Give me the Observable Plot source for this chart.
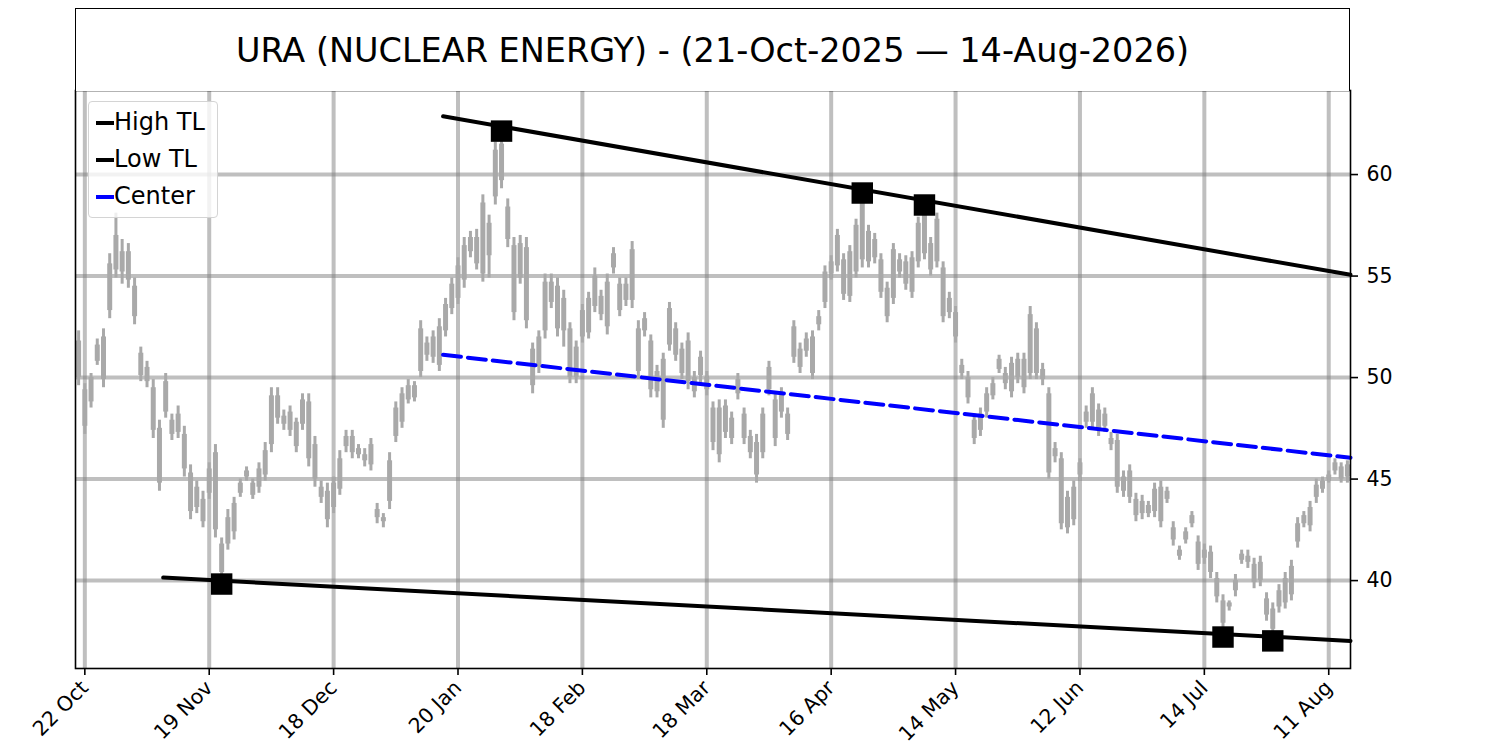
<!DOCTYPE html>
<html><head><meta charset="utf-8">
<script src="https://cdn.jsdelivr.net/npm/d3@7"></script>
<script src="https://cdn.jsdelivr.net/npm/@observablehq/plot@0.6"></script>
<style>
body{margin:0;background:#fff;font-family:"DejaVu Sans",sans-serif;}
#wrap{position:relative;width:1500px;height:750px;overflow:hidden;}
#title{position:absolute;left:75px;top:8px;width:1275px;height:83px;box-sizing:border-box;border:1.6px solid #000;border-bottom:none;display:flex;align-items:center;justify-content:center;font-size:33.5px;color:#000;background:#fff;}
#legend{position:absolute;left:88px;top:101px;width:130px;height:117px;box-sizing:border-box;border:1px solid #d4d4d4;border-radius:4px;background:rgba(255,255,255,0.8);}
#legend .row{position:absolute;left:0;height:37px;line-height:37px;font-size:24px;padding-left:25px;color:#000;white-space:nowrap;}
#legend .sw{position:absolute;left:7px;top:17px;width:18px;height:4px;}
</style></head>
<body><div id="wrap"><div id="chart"></div><div id="title"></div><div id="legend"></div></div>
<script>
const titleText = "URA (NUCLEAR ENERGY) - (21-Oct-2025 \u2014 14-Aug-2026)";
const tickIdx = [1, 21, 41, 61, 81, 101, 121, 141, 161, 181, 201];
const tickLabels = ["22 Oct","19 Nov","18 Dec","20 Jan","18 Feb","18 Mar","16 Apr","14 May","12 Jun","14 Jul","11 Aug"];
const yTicks = [40, 45, 50, 55, 60];

const highs = [
52.3,49.7,50.2,51.9,52.4,56.1,58.1,56.8,56.6,54.9,
51.5,50.8,49.9,47.9,50.2,48.2,48.6,47.6,45.7,44.9,
44.4,45.8,46.7,42.1,43.5,44.1,45.0,45.6,45.0,45.8,
46.8,49.5,49.5,48.4,48.6,48.0,49.2,49.2,47.1,44.9,
44.8,45.1,46.4,47.4,47.4,46.7,46.5,47.0,43.8,43.3,
46.3,48.8,49.5,49.9,49.8,52.8,52.0,52.3,52.9,53.9,
54.9,55.9,56.9,57.2,57.3,59.0,58.0,61.6,62.1,58.8,
56.9,57.0,56.9,51.7,52.3,55.1,55.1,54.9,54.3,52.7,
51.8,53.6,54.2,55.4,54.3,55.1,56.4,54.9,54.9,56.7,
52.8,53.2,52.1,50.6,51.2,53.7,52.7,51.7,52.2,50.3,
51.3,50.3,48.8,48.9,48.9,48.3,50.2,48.5,47.4,47.2,
48.5,50.8,49.2,49.5,48.5,52.8,51.7,52.2,52.3,53.3,
55.5,56.0,57.3,56.1,56.5,57.8,59.1,57.5,57.1,56.1,
54.7,56.6,56.1,56.0,56.2,57.9,58.5,56.9,58.1,55.7,
54.2,53.5,50.9,50.3,48.2,48.5,49.5,50.0,51.1,50.5,
51.0,51.2,51.2,53.5,52.7,50.7,49.5,46.8,46.3,44.4,
44.9,46.0,48.6,49.5,48.7,48.5,47.3,47.2,45.4,45.7,
44.3,44.2,43.9,44.8,44.9,44.6,42.9,41.7,42.6,43.4,
42.2,41.8,41.7,40.4,39.3,39.0,40.3,41.5,41.5,41.1,
41.2,39.4,38.9,39.8,40.4,41.0,43.1,43.4,43.9,45.0,
45.1,45.4,46.0,45.8,45.9];
const lows = [
49.6,47.2,48.5,50.6,49.5,52.9,54.9,54.6,54.4,52.6,
49.8,49.5,47.0,44.4,48.0,46.9,47.0,45.1,43.0,43.3,
42.6,44.0,42.1,39.8,41.5,42.0,44.1,44.9,44.0,44.3,
44.9,46.3,47.7,47.4,47.1,46.3,47.4,45.6,44.6,43.8,
42.6,43.3,44.2,46.3,46.0,46.0,45.6,45.4,42.8,42.6,
43.5,46.8,47.5,48.7,48.8,50.0,50.8,50.7,50.3,52.0,
53.1,53.6,54.4,55.9,55.3,54.7,54.9,58.5,59.3,56.4,
52.8,54.6,52.4,49.2,50.2,51.9,53.4,52.0,51.5,49.7,
49.7,51.7,51.9,53.2,52.8,52.1,55.1,53.0,53.5,53.4,
49.9,52.0,49.0,49.0,47.5,51.3,50.8,49.9,49.4,49.0,
49.7,49.1,46.4,45.8,47.0,46.7,48.9,46.7,46.0,44.8,
46.0,49.1,46.6,48.0,46.9,50.7,50.2,51.0,49.9,52.3,
53.4,54.8,55.2,53.8,53.7,54.9,55.4,55.4,55.6,53.9,
52.7,53.6,54.9,54.3,53.9,55.4,55.8,55.0,55.4,52.7,
52.9,51.7,49.9,48.7,46.7,47.1,48.0,48.9,50.2,49.4,
49.0,49.7,49.2,49.9,49.9,49.6,45.0,45.8,42.5,42.3,
42.7,44.9,47.5,47.5,47.1,47.3,46.4,44.3,44.1,43.8,
42.9,43.0,43.1,43.1,42.6,43.8,41.7,41.0,41.8,42.6,
40.5,40.8,40.1,38.9,37.2,38.5,39.2,40.8,40.6,39.6,
39.7,38.0,37.0,38.4,38.6,39.0,41.6,42.6,42.4,43.8,
44.3,44.8,45.2,44.8,44.8];
const opens = [
51.8,47.6,48.8,50.8,49.9,53.3,55.3,55.2,56.2,54.5,
51.2,50.5,49.5,47.5,48.3,47.9,47.3,47.2,45.3,44.6,
42.9,44.3,46.3,41.8,41.8,42.4,44.3,45.1,44.8,44.6,
45.2,46.7,49.1,48.1,47.4,47.8,47.7,48.8,46.7,44.6,
44.4,43.6,44.5,46.6,47.1,46.5,46.2,45.7,43.5,42.9,
43.9,47.1,47.8,48.9,49.6,50.3,51.7,51.0,50.6,52.3,
53.4,53.9,54.8,56.2,56.9,55.1,56.0,58.9,61.5,58.4,
56.5,54.9,56.4,51.4,50.5,52.3,54.7,54.5,52.3,52.4,
50.0,52.0,52.2,53.5,54.0,52.5,55.4,54.6,53.8,53.8,
52.4,52.3,51.8,49.3,50.9,51.6,52.4,51.4,49.8,49.3,
50.1,50.0,48.5,46.2,48.6,47.0,49.2,48.2,47.1,46.8,
46.3,49.4,48.9,48.3,48.2,51.0,51.4,51.3,50.2,52.6,
53.7,55.1,55.5,55.8,54.0,55.2,55.8,57.2,55.9,55.8,
54.4,53.9,55.8,54.6,55.9,55.7,56.1,56.6,55.7,55.4,
53.9,53.2,50.6,50.0,47.9,47.4,48.3,49.1,50.4,50.2,
49.3,50.0,50.9,50.2,52.4,50.4,49.2,46.1,46.0,42.6,
43.0,45.2,47.8,47.8,48.4,47.6,47.0,46.9,44.4,45.4,
44.0,43.3,43.7,43.4,44.6,44.0,42.6,41.5,42.0,42.8,
41.9,41.1,41.4,40.1,39.0,38.7,39.5,41.0,41.2,40.8,
40.0,39.1,38.6,38.7,38.9,39.3,41.9,42.8,42.7,44.1,
44.5,45.0,45.4,45.6,45.1];
const closes = [
50.0,49.4,50.0,51.6,52.0,55.6,57.0,56.2,54.8,53.0,
50.1,49.8,47.4,44.8,49.8,47.2,48.2,45.5,43.4,43.6,
44.0,45.5,42.5,40.4,43.1,43.8,44.8,45.4,44.2,45.5,
46.4,49.1,48.0,47.7,48.3,46.6,48.9,46.0,45.0,44.1,
43.0,44.8,46.0,47.1,46.3,46.2,45.9,46.7,43.1,43.1,
45.9,48.5,49.2,49.6,49.0,52.4,51.1,52.0,52.5,53.6,
54.6,55.5,56.5,56.9,55.6,58.6,57.6,61.2,59.7,56.8,
53.2,56.6,52.8,49.6,52.0,54.7,53.7,52.4,53.9,50.0,
51.5,53.3,53.9,55.0,53.1,54.7,56.1,53.3,54.6,56.3,
50.3,52.9,49.4,50.3,47.9,53.4,51.1,50.2,51.8,50.0,
51.0,49.4,46.8,48.5,47.3,48.0,49.9,47.0,46.3,45.2,
48.2,50.5,47.0,49.2,47.2,52.5,50.5,51.9,52.0,53.0,
55.2,55.7,57.0,54.1,56.2,57.5,58.7,55.7,56.8,54.2,
53.0,56.3,55.2,55.7,54.2,57.6,58.2,55.3,57.8,53.0,
53.2,52.0,50.2,49.0,47.0,48.2,49.2,49.7,50.9,49.7,
50.7,50.9,49.5,53.1,50.2,49.9,45.3,46.5,42.8,44.1,
44.6,45.8,48.3,49.2,47.4,48.2,46.7,44.6,45.1,44.1,
43.2,43.9,43.3,44.5,42.9,44.4,42.0,41.2,42.4,43.2,
40.8,41.5,40.4,39.2,37.9,38.9,40.0,41.3,40.9,39.9,
40.9,38.3,37.6,39.5,40.1,40.7,42.8,43.2,43.6,44.7,
44.9,45.2,45.8,45.0,45.7];

// trend lines (bar index, price)
const highTLx = [58.6, 204.5], highTLy = [62.87, 55.06];
const lowTLx = [13.6, 204.5], lowTLy = [40.15, 37.03];
const centerX = [58.6, 204.5], centerY = [51.12, 46.05];
// pivots
const pivotIdx = [68, 126, 136, 23, 184, 192];
const pivotVal = [62.14, 59.09, 58.5, 39.83, 37.22, 37.03];

const legendLabels = ["High TL", "Low TL", "Center"];
const legendColors = ["black", "black", "blue"];

const n = highs.length;
const bars = d3.range(n).map(i => ({i, o: opens[i], h: highs[i], l: lows[i], c: closes[i]}));
const pts = (xs, ys) => xs.map((x, k) => [x, ys[k]]);
const pivots = pivotIdx.map((x, k) => [x, pivotVal[k]]);
const barColor = "#a9a9a9";

const chart = Plot.plot({
  width: 1500, height: 750,
  marginTop: 90, marginBottom: 82, marginLeft: 75, marginRight: 150,
  style: {fontFamily: "DejaVu Sans", fontSize: "20.5px", background: "white", color: "black", overflow: "visible"},
  x: {domain: [-0.5, n - 0.5], label: null},
  y: {domain: [35.67, 64.14], label: null},
  marks: [
    Plot.gridX(tickIdx, {stroke: "gray", strokeOpacity: 0.5, strokeWidth: 4}),
    Plot.gridY(yTicks, {stroke: "gray", strokeOpacity: 0.5, strokeWidth: 4}),
    Plot.ruleX(bars, {x: "i", y1: "l", y2: "h", stroke: barColor, strokeWidth: 3}),
    Plot.ruleX(bars, {x: "i", y1: "o", y2: "c", stroke: barColor, strokeWidth: 5}),
    Plot.line(pts(highTLx, highTLy), {stroke: "black", strokeWidth: 4}),
    Plot.line(pts(lowTLx, lowTLy), {stroke: "black", strokeWidth: 4}),
    Plot.line(pts(centerX, centerY), {stroke: "blue", strokeWidth: 4, strokeDasharray: "18,7"}),
    Plot.dot(pivots, {x: d => d[0], y: d => d[1], symbol: "square", r: 12.1, fill: "black", stroke: null}),
    Plot.frame({stroke: "black", strokeWidth: 1.6}),
    Plot.axisX({ticks: tickIdx, tickFormat: d => tickLabels[tickIdx.indexOf(d)], tickRotate: -45, tickSize: 7, tickPadding: 9, strokeWidth: 1.6, fontSize: 20.5}),
    Plot.axisY({ticks: yTicks, anchor: "right", tickSize: 7, tickPadding: 9, strokeWidth: 1.6, fontSize: 20.5})
  ]
});
document.getElementById("chart").appendChild(chart);
document.getElementById("title").textContent = titleText;
const leg = document.getElementById("legend");
legendLabels.forEach((lab, k) => {
  const row = document.createElement("div");
  row.className = "row";
  row.style.top = (2 + 37 * k) + "px";
  const sw = document.createElement("span");
  sw.className = "sw";
  sw.style.background = legendColors[k];
  row.appendChild(sw);
  row.appendChild(document.createTextNode(lab));
  leg.appendChild(row);
});
</script></body></html>
